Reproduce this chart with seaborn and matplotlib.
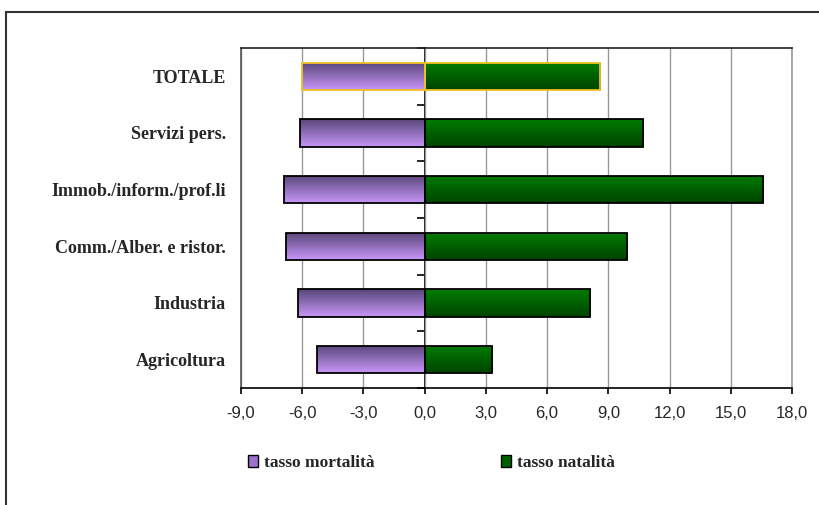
import numpy as np
import pandas as pd
import matplotlib
matplotlib.use("Agg")
import matplotlib.pyplot as plt
from matplotlib.patches import Patch, Rectangle
from matplotlib.colors import LinearSegmentedColormap
import seaborn as sns

settori = ["TOTALE", "Servizi pers.", "Immob./inform./prof.li",
           "Comm./Alber. e ristor.", "Industria", "Agricoltura"]
mortalita = [-6.0, -6.1, -6.9, -6.8, -6.2, -5.3]
natalita = [8.6, 10.7, 16.6, 9.9, 8.1, 3.3]
serie = ["tasso mortalità", "tasso natalità"]
x_ticks = [-9, -6, -3, 0, 3, 6, 9, 12, 15, 18]

df = pd.DataFrame({
    "settore": settori * 2,
    "valore": mortalita + natalita,
    "serie": [serie[0]] * len(settori) + [serie[1]] * len(settori),
})

sns.set_theme(style="white")
fig = plt.figure(figsize=(8.19, 5.05), dpi=100)
ax = fig.add_axes([0.2943, 0.2317, 0.6727, 0.6733])

ax = sns.barplot(data=df, y="settore", x="valore", hue="serie", order=settori,
                 hue_order=serie, dodge=False, width=0.48, legend=False,
                 palette=["#a070d0", "#006000"], edgecolor="black",
                 linewidth=1.3, ax=ax)

# gradient fill, like the original spreadsheet chart
grad = {
    serie[0]: LinearSegmentedColormap.from_list("viola", ["#58467a", "#c896f8"]),
    serie[1]: LinearSegmentedColormap.from_list("verde", ["#007c00", "#004400"]),
}
vals = np.linspace(0, 1, 64).reshape(-1, 1)
for i, bar in enumerate(ax.patches[:2 * len(settori)]):
    s = serie[i // len(settori)]
    bb = bar.get_bbox()
    img = ax.imshow(vals, cmap=grad[s], aspect="auto", interpolation="bicubic",
                    extent=(bb.x0, bb.x1, bb.y1, bb.y0), zorder=1)
    img.set_clip_path(bar)
    bar.set_facecolor("none")
    bar.set_zorder(2)
    if settori[i % len(settori)] == "TOTALE":
        bar.set_edgecolor("#f0c020")

ax.set_xlim(x_ticks[0], x_ticks[-1])
ax.set_ylim(len(settori) - 0.5, -0.5)
ax.set_xticks(x_ticks)
ax.set_xticklabels([f"{v:.1f}".replace(".", ",") for v in x_ticks],
                   fontsize=12, family="Liberation Sans")
ax.set_yticks(range(len(settori)))
ax.set_yticklabels(settori, fontsize=13, fontweight="bold", family="Liberation Serif")
ax.tick_params(axis="y", length=0, pad=11)
ax.tick_params(axis="x", direction="out", length=4, width=1.2, color="black",
               bottom=True, pad=9)
ax.set_xlabel("")
ax.set_ylabel("")
ax.xaxis.grid(True, color="#999999", linewidth=1)
ax.set_axisbelow(True)

for side, col in [("top", "#222222"), ("left", "#555555"),
                  ("right", "#999999"), ("bottom", "black")]:
    ax.spines[side].set_visible(True)
    ax.spines[side].set_color(col)
    ax.spines[side].set_linewidth(1.2)

# category axis crossing at zero
loc0 = (0 - x_ticks[0]) / (x_ticks[-1] - x_ticks[0])
sec = ax.secondary_yaxis(loc0)
sec.set_yticks(np.arange(-0.5, len(settori), 1.0))
sec.set_yticklabels([])
sec.tick_params(direction="out", length=6, width=1.2, color="black")
sec.spines["left"].set_color("black")
sec.spines["left"].set_linewidth(1.3)

handles = [Patch(facecolor="#a070d0", edgecolor="black", label=serie[0]),
           Patch(facecolor="#006000", edgecolor="black", label=serie[1])]
fig.legend(handles=handles, loc="center", bbox_to_anchor=(0.527, 0.083), ncol=2,
           frameon=False, handlelength=0.55, handleheight=0.7, handletextpad=0.35,
           columnspacing=7.3,
           prop={"family": "Liberation Serif", "weight": "bold", "size": 12.5})

# outer chart frame, cut by the image edge
fig.patches.append(Rectangle((6 / 819, -0.1), 1.2, 1.1 - 12 / 505, transform=fig.transFigure,
                             fill=False, edgecolor="#333333", linewidth=1.5))

fig.savefig("out.png", dpi=100)
